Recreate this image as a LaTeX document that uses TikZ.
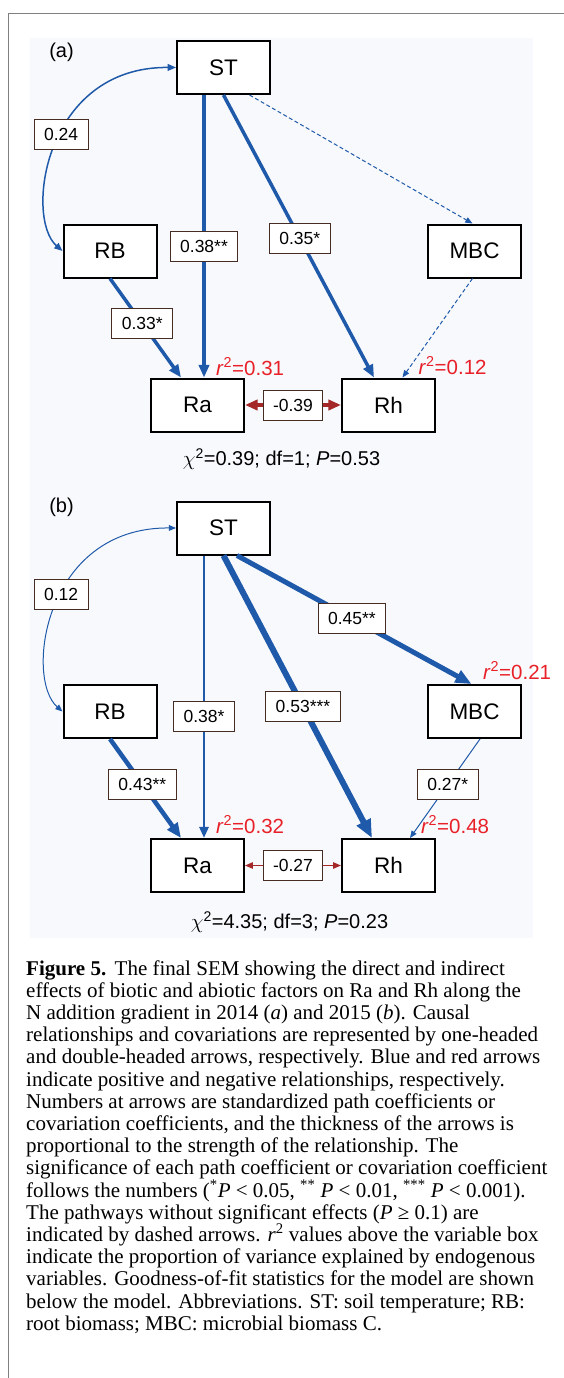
\documentclass[tikz,border=0pt]{standalone}
\usepackage{fontspec}
\setmainfont{Liberation Serif}
\setsansfont{Liberation Sans}
\usetikzlibrary{arrows.meta}
\definecolor{pathblue}{RGB}{31,90,170}
\definecolor{negred}{RGB}{165,40,40}
\definecolor{rsqred}{RGB}{232,32,40}
\definecolor{labelbrown}{RGB}{70,45,35}
\definecolor{framegray}{RGB}{128,128,128}
\definecolor{panelbg}{RGB}{248,249,253}

\begin{document}
\begin{tikzpicture}[x=1pt, y=-1pt,
  varbox/.style={draw, line width=2pt, fill=white, minimum width=93pt, minimum height=53pt, inner sep=0pt, font=\fontsize{22.5}{27}\selectfont\sffamily},
  coefbox/.style={draw=labelbrown, line width=1pt, fill=white, text=black, inner xsep=10pt, inner ysep=0pt, minimum height=30pt, font=\fontsize{17.5}{21}\selectfont\sffamily},
  rsq/.style={anchor=base west, inner sep=0pt, text=rsqred, font=\fontsize{20.5}{24}\selectfont\sffamily},
  fit/.style={font=\fontsize{20}{24}\selectfont\sffamily},
  effect/.style={draw=pathblue, line width=#1, -{Triangle[length=5pt 2.2, width=4pt 1.8]}},
  covar/.style={line width=#1, {Triangle[length=5pt 2.2, width=4pt 1.8]}-{Triangle[length=5pt 2.2, width=4pt 1.8]}},
  nsig/.style={effect=1pt, dash pattern=on 4pt off 2.5pt}]
\useasboundingbox (0,0) rectangle (564,1378);
\fill[panelbg] (30,38) rectangle (533,938);
\draw[framegray, line width=1.5pt] (564,13.5) -- (8.5,13.5) -- (8.5,1378);

% (a) 2014
\node (taga) at (61.5,52) [fit] {(a)};
\node (STa) at (223.5,67.5) [varbox] {ST};
\node (RBa) at (110,251) [varbox] {RB};
\node (MBCa) at (474.5,251) [varbox] {MBC};
\node (Raa) at (197.5,405) [varbox] {Ra};
\node (Rha) at (388.5,405) [varbox] {Rh};

\draw[covar=1.5pt, pathblue] (RBa.west) .. controls +(-38,-33) and +(-132,-1) .. (STa.west) node[coefbox, pos=0.55] (c24a) {0.24};
\draw[effect=3.5pt] ([xshift=-19.5pt]STa.south) -- ([xshift=6.5pt]Raa.north) node[coefbox, pos=0.537] (c38a) {0.38**};
\draw[effect=3.5pt] (STa.south) -- ([xshift=-14.5pt]Rha.north) node[coefbox, pos=0.507] (c35a) {0.35*};
\draw[nsig] ([xshift=26pt]STa.south) -- ([xshift=-2pt]MBCa.north);
\draw[effect=3.5pt] (RBa.south) -- ([xshift=-16.5pt]Raa.north) node[coefbox, pos=0.455] (c33a) {0.33*};
\draw[nsig] ([xshift=-2pt]MBCa.south) -- ([xshift=14pt]Rha.north);
\draw[covar=3.5pt, negred] (Raa) -- (Rha) node[coefbox, pos=0.5] (c39a) {-0.39};

\node (rRaa) at (216,375.5) [rsq] {\textit{r}\textsuperscript{2}=0.31};
\node (rRha) at (418.5,374.5) [rsq] {\textit{r}\textsuperscript{2}=0.12};
\node (gofa) at (281.5,459) [fit] {$\chi$\textsuperscript{2}=0.39; df=1; \textit{P}=0.53};

% (b) 2015
\node (tagb) at (61.5,507) [fit] {(b)};
\node (STb) at (223.5,528) [varbox] {ST};
\node (RBb) at (110,711.5) [varbox] {RB};
\node (MBCb) at (474.5,711.5) [varbox] {MBC};
\node (Rab) at (197.5,865.5) [varbox] {Ra};
\node (Rhb) at (388.5,865.5) [varbox] {Rh};

\draw[covar=1pt, pathblue] (RBb.west) .. controls +(-38,-33) and +(-132,-1) .. (STb.west) node[coefbox, pos=0.55] (c12b) {0.12};
\draw[effect=2.8pt] ([xshift=-19.5pt]STb.south) -- ([xshift=6.5pt]Rab.north) node[coefbox, pos=0.57] (c38b) {0.38*};
\draw[effect=6pt] (STb.south) -- ([xshift=-16.5pt]Rhb.north) node[coefbox, pos=0.535] (c53b) {0.53***};
\draw[effect=5pt] ([xshift=13.5pt]STb.south) -- ([xshift=-3pt]MBCb.north) node[coefbox, pos=0.49] (c45b) {0.45**};
\draw[effect=4.5pt] (RBb.south) -- ([xshift=-16.5pt]Rab.north) node[coefbox, pos=0.455] (c43b) {0.43**};
\draw[effect=1pt] ([xshift=5.5pt]MBCb.south) -- ([xshift=21.5pt]Rhb.north) node[coefbox, pos=0.46] (c27b) {0.27*};
\draw[covar=1.3pt, negred] (Rab) -- (Rhb) node[coefbox, pos=0.5] (c27nb) {-0.27};

\node (rMBCb) at (483,679.5) [rsq] {\textit{r}\textsuperscript{2}=0.21};
\node (rRab) at (216,833.3) [rsq] {\textit{r}\textsuperscript{2}=0.32};
\node (rRhb) at (421,833.3) [rsq] {\textit{r}\textsuperscript{2}=0.48};
\node (gofb) at (289.5,922) [fit] {$\chi$\textsuperscript{2}=4.35; df=3; \textit{P}=0.23};

% caption
\node (caption) at (26,960) [anchor=north west, inner sep=0pt, align=left, font=\fontsize{21}{22.2}\selectfont] {%
\textbf{Figure 5.}\hspace{0.4em}The final SEM showing the direct and indirect\\
effects of biotic and abiotic factors on Ra and Rh along the\\
N addition gradient in 2014 (\textit{a}) and 2015 (\textit{b}). Causal\\
relationships and covariations are represented by one-headed\\
and double-headed arrows, respectively. Blue and red arrows\\
indicate positive and negative relationships, respectively.\\
Numbers at arrows are standardized path coefficients or\\
covariation coefficients, and the thickness of the arrows is\\
proportional to the strength of the relationship. The\\
significance of each path coefficient or covariation coefficient\\
follows the numbers (\textsuperscript{*}\textit{P} < 0.05, \textsuperscript{**} \textit{P} < 0.01, \textsuperscript{***} \textit{P} < 0.001).\\
The pathways without significant effects (\textit{P} ≥ 0.1) are\\
indicated by dashed arrows. \textit{r}\textsuperscript{2} values above the variable box\\
indicate the proportion of variance explained by endogenous\\
variables. Goodness-of-fit statistics for the model are shown\\
below the model. Abbreviations. ST: soil temperature; RB:\\
root biomass; MBC: microbial biomass C.};
\end{tikzpicture}
\end{document}
